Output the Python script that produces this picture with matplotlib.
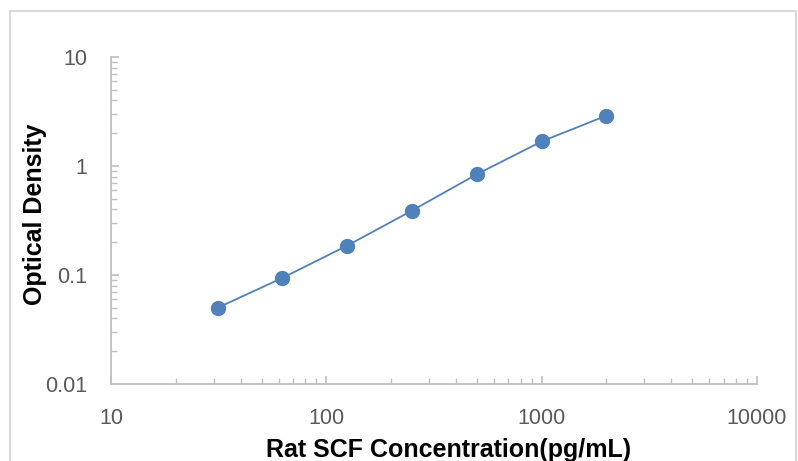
import matplotlib
matplotlib.use("Agg")
import matplotlib.pyplot as plt
from matplotlib.patches import Rectangle
from matplotlib.ticker import LogLocator, FixedLocator, NullFormatter

# standard curve data
conc = [31.25, 62.5, 125, 250, 500, 1000, 2000]
od = [0.050, 0.094, 0.186, 0.390, 0.840, 1.68, 2.90]

x_ticks = [10, 100, 1000, 10000]
x_tick_labels = ["10", "100", "1000", "10000"]
y_ticks = [0.01, 0.1, 1, 10]
y_tick_labels = ["0.01", "0.1", "1", "10"]

W, H = 798, 461
fig = plt.figure(figsize=(W / 100, H / 100), dpi=100)
fig.patch.set_facecolor("white")

# light grey chart-area border (bottom runs off the image)
fig.patches.append(Rectangle((10 / W, -0.1), (787 - 1) / W, (H - 11) / H + 0.1,
                             transform=fig.transFigure, fill=False,
                             edgecolor="#d9d9d9", linewidth=1.5))

ax = fig.add_axes([111 / W, (H - 384) / H, (757 - 111) / W, (384 - 57) / H])
ax.set_xscale("log")
ax.set_yscale("log")
ax.set_xlim(10, 10000)
ax.set_ylim(0.01, 10)

ax.plot(conc, od, color="#4f81bd", linewidth=1.3, marker="o", markersize=10,
        markerfacecolor="#4f81bd", markeredgecolor="#4f81bd", zorder=3, clip_on=False)

for s in ["top", "right"]:
    ax.spines[s].set_visible(False)
for s in ["left", "bottom"]:
    ax.spines[s].set_color("#bfbfbf")
    ax.spines[s].set_linewidth(1.3)

ax.xaxis.set_major_locator(FixedLocator(x_ticks))
ax.set_xticklabels(x_tick_labels)
ax.yaxis.set_major_locator(FixedLocator(y_ticks))
ax.set_yticklabels(y_tick_labels)
for axis in (ax.xaxis, ax.yaxis):
    axis.set_minor_locator(LogLocator(base=10, subs=range(2, 10), numticks=20))
    axis.set_minor_formatter(NullFormatter())

ax.tick_params(which="major", direction="in", length=6, width=1.2, color="#bfbfbf",
               labelsize=15.5, labelcolor="#595959")
ax.tick_params(which="minor", direction="in", length=4.5, width=1.0, color="#bfbfbf")
ax.tick_params(axis="y", which="major", pad=17)
ax.tick_params(axis="x", which="major", pad=17)
for lbl in ax.get_xticklabels() + ax.get_yticklabels():
    lbl.set_family("Liberation Sans")

fig.text(449 / W, 1 - 457 / H, "Rat SCF Concentration(pg/mL)", ha="center",
         va="baseline", fontsize=18, fontweight="bold", family="Liberation Sans",
         color="black")
fig.text(35 / W, 1 - 214 / H, "Optical Density", ha="center", va="center",
         rotation=90, fontsize=18, fontweight="bold", family="Liberation Sans",
         color="black")

fig.savefig("out.png", dpi=100)
